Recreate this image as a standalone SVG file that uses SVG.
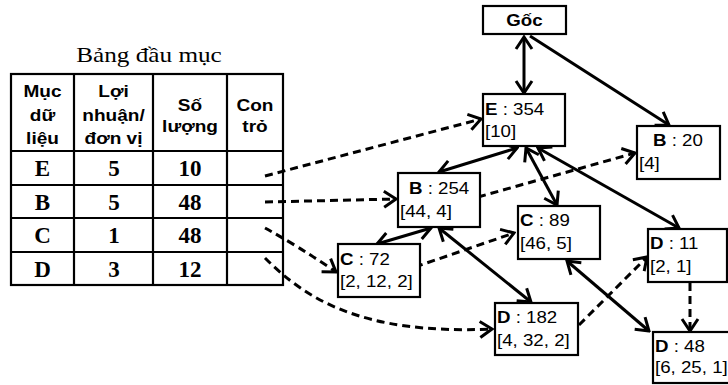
<svg xmlns="http://www.w3.org/2000/svg" width="728" height="385" viewBox="0 0 728 385">
  <defs>
    <style>
      .box { fill: #fff; stroke: #000; stroke-width: 2.2; }
      .grid { fill: none; stroke: #000; stroke-width: 2.2; }
      .hd { font-family: "Liberation Sans", Arial, sans-serif; font-size: 17px; font-weight: bold; text-anchor: middle; }
      .cell { font-family: "Liberation Serif", "Times New Roman", serif; font-size: 23px; font-weight: bold; text-anchor: middle; }
      .cap { font-family: "Liberation Serif", "Times New Roman", serif; font-size: 21px; text-anchor: middle; }
      .lbl { font-family: "Liberation Sans", Arial, sans-serif; font-size: 17px; }
      .lbl .k { font-weight: bold; }
      .solid { fill: none; stroke: #000; stroke-width: 3; marker-end: url(#ah); }
      .both { marker-start: url(#ah); }
      .dash { fill: none; stroke: #000; stroke-width: 3; stroke-dasharray: 8 5; marker-end: url(#ah); }
    </style>
    <!-- open V arrowhead, reused at either end -->
    <marker id="ah" viewBox="-14 -10 16 20" refX="0" refY="0" markerWidth="16" markerHeight="20" markerUnits="userSpaceOnUse" orient="auto-start-reverse">
      <path d="M-12,-8 L0,0 L-12,8" fill="none" stroke="#000" stroke-width="3" stroke-dasharray="none"/>
    </marker>
  </defs>

  <!-- index table -->
  <g id="table">
    <text class="cap" transform="translate(149 62) scale(1.2 1)">Bảng đầu mục</text>
    <rect class="grid" x="11" y="74" width="272" height="211"/>
    <path class="grid" d="M74,74 V285 M153,74 V285 M227,74 V285 M11,151 H283 M11,185 H283 M11,218 H283 M11,252 H283"/>
    <g class="hd">
      <text transform="translate(42.5 97) scale(1.12 1)">Mục</text>
      <text transform="translate(42.5 120.5) scale(1.12 1)">dữ</text>
      <text transform="translate(42.5 144) scale(1.12 1)">liệu</text>
      <text transform="translate(113.5 97) scale(1.12 1)">Lợi</text>
      <text transform="translate(113.5 120.5) scale(1.12 1)">nhuận/</text>
      <text transform="translate(113.5 144) scale(1.12 1)">đơn vị</text>
      <text transform="translate(190 110.5) scale(1.12 1)">Số</text>
      <text transform="translate(190 132) scale(1.12 1)">lượng</text>
      <text transform="translate(255 110.5) scale(1.12 1)">Con</text>
      <text transform="translate(255 132) scale(1.12 1)">trỏ</text>
    </g>
    <g class="cell">
      <text x="42.5" y="176">E</text>
      <text x="114" y="176">5</text>
      <text x="190" y="176">10</text>
      <text x="42.5" y="209.5">B</text>
      <text x="114" y="209.5">5</text>
      <text x="190" y="209.5">48</text>
      <text x="42.5" y="243">C</text>
      <text x="114" y="243">1</text>
      <text x="190" y="243">48</text>
      <text x="42.5" y="276.5">D</text>
      <text x="114" y="276.5">3</text>
      <text x="190" y="276.5">12</text>
    </g>
  </g>

  <!-- connectors -->
  <g id="connectors">
    <path class="solid both" d="M524,37 L524,93"/>
    <path class="solid" d="M530,36 L669,125"/>
    <path class="solid both" d="M517,148 L439,172"/>
    <path class="solid both" d="M526,148 L557,205"/>
    <path class="solid both" d="M538,148 L679,228"/>
    <path class="solid both" d="M431,228 L377,244"/>
    <path class="solid both" d="M439,228 L531,302"/>
    <path class="solid both" d="M567,261 L649,331"/>

    <path class="dash" d="M265,176 L481,119"/>
    <path class="dash" d="M265,202 L396,199"/>
    <path class="dash" d="M478,197 L635,153"/>
    <path class="dash" d="M265,228 Q298,246 336,272"/>
    <path class="dash" d="M415,267 L514,233"/>
    <path class="dash" d="M265,258 C305,298 360,335 492,329"/>
    <path class="dash" d="M579,325 L647,257"/>
    <path class="dash" d="M690,283 L690,331"/>
  </g>

  <!-- nodes -->
  <g id="goc">
    <rect class="box" x="483" y="6" width="83" height="28"/>
    <text class="lbl" transform="translate(524.5 26) scale(1.1 1)" text-anchor="middle"><tspan class="k">Gốc</tspan></text>
  </g>
  <g id="node-e354">
    <rect class="box" x="483" y="94" width="82" height="52"/>
    <text class="lbl" transform="translate(485 115) scale(1.1 1)"><tspan class="k">E</tspan> : 354</text>
    <text class="lbl" transform="translate(485 136.5) scale(1.1 1)">[10]</text>
  </g>
  <g id="node-b254">
    <rect class="box" x="398" y="173" width="82" height="54"/>
    <text class="lbl" transform="translate(409 193.5) scale(1.1 1)"><tspan class="k">B</tspan> : 254</text>
    <text class="lbl" transform="translate(400 216.5) scale(1.1 1)">[44, 4]</text>
  </g>
  <g id="node-b20">
    <rect class="box" x="637" y="126" width="83" height="53"/>
    <text class="lbl" transform="translate(653 145.5) scale(1.1 1)"><tspan class="k">B</tspan> : 20</text>
    <text class="lbl" transform="translate(639 169) scale(1.1 1)">[4]</text>
  </g>
  <g id="node-c89">
    <rect class="box" x="518" y="206" width="82" height="53"/>
    <text class="lbl" transform="translate(520 226) scale(1.1 1)"><tspan class="k">C</tspan> : 89</text>
    <text class="lbl" transform="translate(520 248.5) scale(1.1 1)">[46, 5]</text>
  </g>
  <g id="node-c72">
    <rect class="box" x="338" y="244" width="82" height="53"/>
    <text class="lbl" transform="translate(340 265) scale(1.1 1)"><tspan class="k">C</tspan> : 72</text>
    <text class="lbl" transform="translate(340 287) scale(1.1 1)">[2, 12, 2]</text>
  </g>
  <g id="node-d182">
    <rect class="box" x="495" y="303" width="83" height="52"/>
    <text class="lbl" transform="translate(497 323) scale(1.1 1)"><tspan class="k">D</tspan> : 182</text>
    <text class="lbl" transform="translate(497 345.5) scale(1.1 1)">[4, 32, 2]</text>
  </g>
  <g id="node-d11">
    <rect class="box" x="648" y="229" width="79" height="53"/>
    <text class="lbl" transform="translate(650 248.5) scale(1.1 1)"><tspan class="k">D</tspan> : 11</text>
    <text class="lbl" transform="translate(650 271.5) scale(1.1 1)">[2, 1]</text>
  </g>
  <g id="node-d48">
    <rect class="box" x="653" y="332" width="78" height="51"/>
    <text class="lbl" transform="translate(655 352) scale(1.1 1)"><tspan class="k">D</tspan> : 48</text>
    <text class="lbl" transform="translate(655 373) scale(1.1 1)">[6, 25, 1]</text>
  </g>
</svg>
